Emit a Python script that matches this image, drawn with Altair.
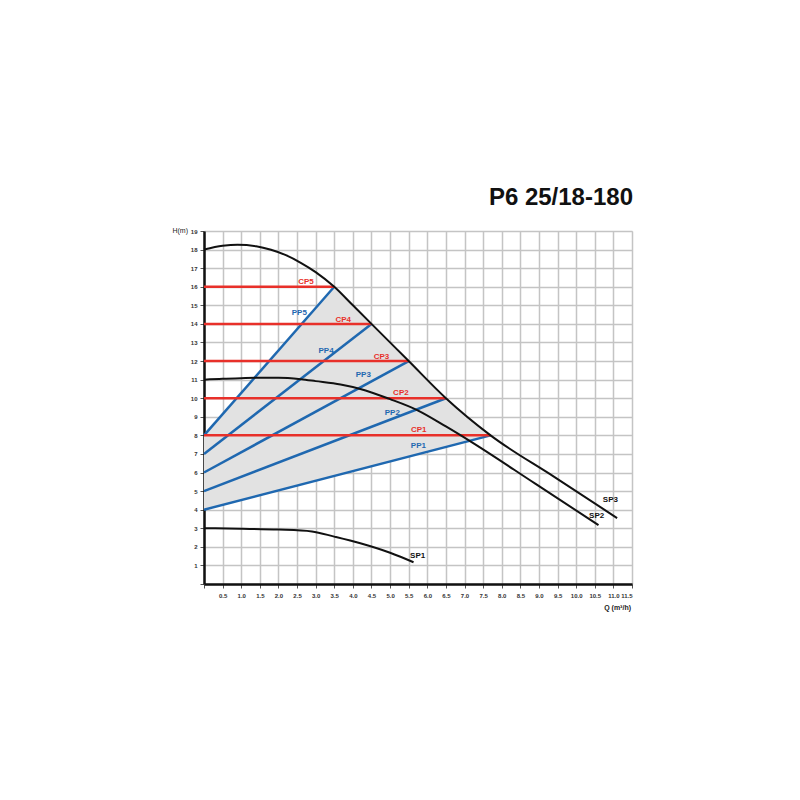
import altair as alt
import pandas as pd

# ---- data ----
sp3_q = [0.0, 0.5, 0.9, 1.4, 1.8, 2.2, 2.6, 3.0, 3.5, 4.0, 4.5, 5.5, 6.5, 7.7, 9.4, 11.1]
sp3_h = [18.0, 18.2, 18.26, 18.18, 17.99, 17.7, 17.29, 16.79, 16.0, 15.0, 14.0, 12.0, 10.0, 8.0, 5.78, 3.55]

sp2_q = [0.0, 0.5, 1.0, 1.5, 2.0, 2.6, 3.0, 3.67, 4.2, 5.0, 5.74, 6.5, 7.18, 8.9, 10.6]
sp2_h = [11.0, 11.05, 11.08, 11.1, 11.1, 11.02, 10.92, 10.74, 10.5, 9.95, 9.35, 8.48, 7.65, 5.4, 3.17]

sp1_q = [0.0, 1.0, 2.0, 2.9, 3.5, 4.2, 5.0, 5.63]
sp1_h = [3.0, 2.98, 2.93, 2.83, 2.55, 2.19, 1.68, 1.17]

# constant-pressure (CP) and proportional-pressure (PP) settings
cp_names = ["CP1", "CP2", "CP3", "CP4", "CP5"]
cp_h = [8, 10, 12, 14, 16]
cp_qend = [7.7, 6.5, 5.5, 4.5, 3.5]
pp_names = ["PP1", "PP2", "PP3", "PP4", "PP5"]
pp_h0 = [4, 5, 6, 7, 8]

cp_lab_q = [5.77, 5.29, 4.77, 3.74, 2.74]
cp_lab_h = [8.28, 10.29, 12.22, 14.23, 16.25]
pp_lab_q = [5.76, 5.06, 4.28, 3.28, 2.56]
pp_lab_h = [7.42, 9.21, 11.24, 12.55, 14.6]

sp_names = ["SP1", "SP2", "SP3"]
sp_lab_q = [5.74, 10.55, 10.92]
sp_lab_h = [1.52, 3.66, 4.52]

x_ticks = [i * 0.5 for i in range(24)]
y_ticks = list(range(20))

# ---- frames ----
curves = pd.concat([
    pd.DataFrame({"Q": sp1_q, "H": sp1_h, "s": "SP1"}),
    pd.DataFrame({"Q": sp2_q, "H": sp2_h, "s": "SP2"}),
    pd.DataFrame({"Q": sp3_q, "H": sp3_h, "s": "SP3"}),
])
cp = pd.DataFrame({"name": cp_names, "H": cp_h, "q0": 0.0, "q1": cp_qend})
pp = pd.DataFrame({"name": pp_names, "q0": 0.0, "h0": pp_h0, "q1": cp_qend, "h1": cp_h})

# shaded operating region: between PP1 (lower) and PP5 / SP3 (upper)
q_pp1_end, h_pp1_end = cp_qend[0], cp_h[0]
q_pp5_end = cp_qend[4]
area_q, area_hi, area_lo = [0.0], [pp_h0[4]], [pp_h0[0]]
for q, h in zip(sp3_q, sp3_h):
    if q_pp5_end <= q <= q_pp1_end:
        area_q.append(q)
        area_hi.append(h)
        area_lo.append(pp_h0[0] + (h_pp1_end - pp_h0[0]) * q / q_pp1_end)
area = pd.DataFrame({"Q": area_q, "hi": area_hi, "lo": area_lo})

labels = pd.concat([
    pd.DataFrame({"Q": cp_lab_q, "H": cp_lab_h, "t": cp_names, "c": "cp"}),
    pd.DataFrame({"Q": pp_lab_q, "H": pp_lab_h, "t": pp_names, "c": "pp"}),
    pd.DataFrame({"Q": sp_lab_q, "H": sp_lab_h, "t": sp_names, "c": "sp"}),
])

RED = "#e8302a"
BLUE = "#1f68b0"
FONT = "Liberation Sans"

xs = alt.Scale(domain=[0, 11.5], nice=False)
ys = alt.Scale(domain=[0, 19], nice=False)

xaxis = alt.Axis(values=x_ticks, labelExpr="datum.value == 0 ? '' : format(datum.value, '.1f')",
                 title=None, grid=True, gridColor="#c4c4c4", gridWidth=1.5, labelOverlap=False,
                 domainColor="#111", domainWidth=2.5, tickColor="#555", tickSize=4,
                 labelFontSize=6, labelFont=FONT, labelFontWeight="bold", labelColor="#333", labelPadding=4)
yaxis = alt.Axis(values=y_ticks, labelExpr="datum.value == 0 ? '' : format(datum.value, 'd')",
                 title=None, grid=True, gridColor="#c4c4c4", gridWidth=1.5, labelOverlap=False,
                 domainColor="#111", domainWidth=2.5, tickColor="#555", tickSize=4,
                 labelFontSize=6, labelFont=FONT, labelFontWeight="bold", labelColor="#333", labelPadding=3)


def X(f):
    return alt.X(f, scale=xs, axis=xaxis)


def Y(f):
    return alt.Y(f, scale=ys, axis=yaxis)


base_area = alt.Chart(area).mark_area(color="#e2e2e2", opacity=1).encode(
    x=X("Q:Q"), y=Y("hi:Q"), y2="lo:Q",
)
cp_rules = alt.Chart(cp).mark_rule(color=RED, strokeWidth=2.5).encode(
    x=X("q0:Q"), x2="q1:Q", y=Y("H:Q")
)
pp_rules = alt.Chart(pp).mark_rule(color=BLUE, strokeWidth=2.5).encode(
    x=X("q0:Q"), x2="q1:Q", y=Y("h0:Q"), y2="h1:Q"
)
curve_lines = alt.Chart(curves).mark_line(color="#111", strokeWidth=2, interpolate="monotone").encode(
    x=X("Q:Q"), y=Y("H:Q"), detail="s:N"
)
lab = alt.Chart(labels).mark_text(font=FONT, fontWeight="bold", fontSize=8).encode(
    x=X("Q:Q"), y=Y("H:Q"), text="t:N",
    color=alt.Color("c:N", scale=alt.Scale(domain=["cp", "pp", "sp"], range=[RED, BLUE, "#111"]), legend=None),
)

title = alt.Chart(pd.DataFrame({"t": ["P6 25/18-180"]})).mark_text(
    font=FONT, fontWeight="bold", fontSize=24, align="right", baseline="alphabetic", color="#111"
).encode(text="t:N", x=alt.value(429), y=alt.value(-26))
hlab = alt.Chart(pd.DataFrame({"t": ["H(m)"]})).mark_text(
    font=FONT, fontSize=7, align="right", baseline="middle", color="#222"
).encode(text="t:N", x=alt.value(-16), y=alt.value(0))
qlab = alt.Chart(pd.DataFrame({"t": ["Q (m³/h)"]})).mark_text(
    font=FONT, fontSize=7, fontWeight="bold", align="right", baseline="middle", color="#222"
).encode(text="t:N", x=alt.value(427), y=alt.value(377))

chart = alt.layer(base_area, pp_rules, cp_rules, curve_lines, lab, title, hlab, qlab).properties(
    width=428, height=353,
    autosize=alt.AutoSizeParams(type="none"),
    padding={"left": 196, "top": 223, "right": 60, "bottom": 60},
).configure_view(stroke="#222", strokeWidth=1.5).configure(background="white")

chart.save("out.html", embed_options={"renderer": "svg", "actions": False})
